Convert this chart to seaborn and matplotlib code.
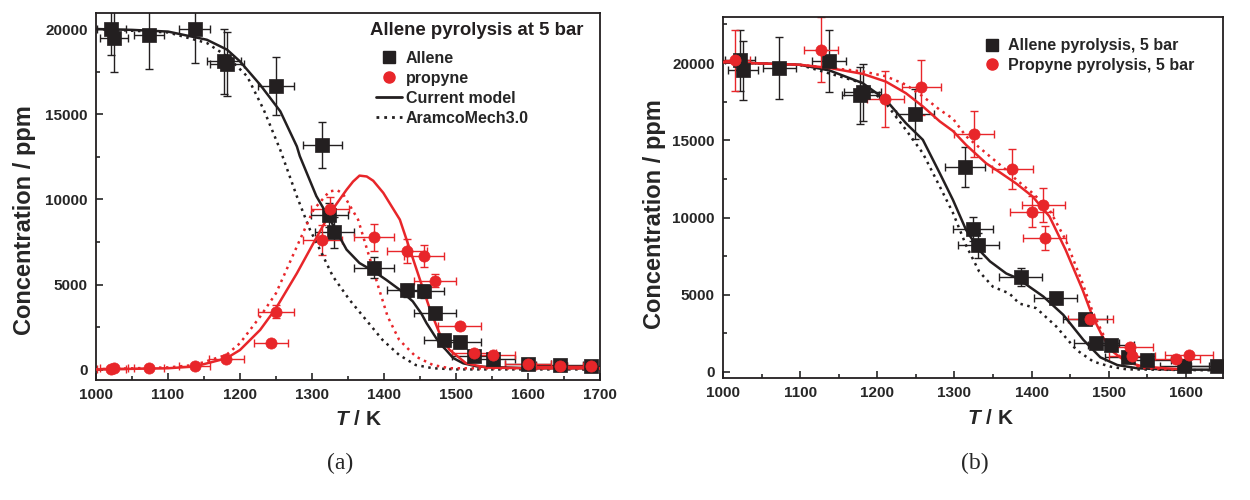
import matplotlib

matplotlib.use("Agg")
import matplotlib.pyplot as plt
from matplotlib.lines import Line2D
from matplotlib.ticker import MultipleLocator
import seaborn as sns

# ===================== data =====================
# (a) allene pyrolysis at 5 bar
allene_T_a = [1021, 1025, 1074, 1137, 1178, 1182, 1250, 1314, 1324, 1331, 1386,
              1432, 1456, 1471, 1484, 1505, 1525, 1551, 1600, 1644, 1688]
allene_C_a = [20000, 19470, 19630, 20000, 18100, 17950, 16670, 13210, 9100, 8080, 6000,
              4670, 4610, 3330, 1770, 1610, 820, 650, 330, 290, 260]
allene_yerr_a = [1500, 2000, 2000, 2000, 1900, 1900, 1700, 1350, 700, 900, 600,
                 400, 400, 300, 300, 300, 200, 200, 150, 150, 150]
allene_xerr_a = [20, 20, 21, 22, 24, 24, 25, 27, 26, 27, 28,
                 28, 28, 29, 29, 30, 30, 31, 32, 33, 34]

propyne_T_a = [1021, 1025, 1074, 1137, 1181, 1243, 1250, 1314, 1325, 1386,
               1432, 1456, 1471, 1505, 1525, 1551, 1600, 1644, 1688]
propyne_C_a = [40, 100, 100, 250, 650, 1570, 3420, 7630, 9450, 7790,
               7000, 6700, 5240, 2550, 1020, 880, 330, 260, 260]
propyne_yerr_a = [50, 50, 50, 100, 150, 100, 400, 900, 700, 800,
                  700, 650, 400, 200, 150, 150, 100, 100, 100]
propyne_xerr_a = [20, 20, 21, 22, 24, 24, 25, 27, 26, 28,
                  28, 28, 29, 30, 30, 31, 32, 33, 34]

cur_allene_T_a = [1000, 1050, 1100, 1154, 1182, 1200, 1228, 1256, 1279, 1283, 1306, 1325,
                  1348, 1366, 1386, 1403, 1422, 1440, 1452, 1459, 1468, 1477, 1486, 1496, 1510,
                  1530, 1600, 1700]
cur_allene_C_a = [20000, 19950, 19850, 19370, 18790, 18100, 16730, 15170, 13110, 12550, 10200, 8820,
                  7060, 6270, 5780, 5290, 4700, 4020, 3300, 2750, 2160, 1570, 1180, 700, 390,
                  200, 100, 100]
aram_allene_T_a = [1000, 1100, 1154, 1182, 1210, 1233, 1256, 1279, 1297, 1311, 1329, 1352,
                   1375, 1398, 1421, 1444, 1468, 1500, 1700]
aram_allene_C_a = [20000, 19800, 19180, 18400, 17220, 15260, 12900, 10180, 8240, 7060, 5490, 4120,
                   2940, 1760, 880, 290, 100, 30, 30]
cur_propyne_T_a = [1000, 1100, 1137, 1181, 1200, 1228, 1250, 1279, 1302, 1325, 1348, 1357, 1366,
                   1376, 1385, 1399, 1422, 1436, 1450, 1464, 1477, 1491, 1514, 1542, 1600, 1700]
cur_propyne_C_a = [30, 100, 200, 680, 1170, 2350, 3620, 5670, 7440, 9200, 10570, 11050, 11400,
                   11350, 11100, 10390, 8820, 7060, 5290, 3530, 2160, 1180, 390, 140, 100, 100]
aram_propyne_T_a = [1000, 1100, 1137, 1181, 1200, 1228, 1250, 1279, 1302, 1324, 1335, 1343, 1364,
                    1378, 1392, 1405, 1421, 1444, 1468, 1491, 1700]
aram_propyne_C_a = [40, 150, 290, 880, 1570, 3130, 4500, 7240, 9390, 10470, 10550, 10330, 8820,
                    6860, 4900, 3140, 1770, 790, 290, 100, 80]

# (b) allene vs propyne pyrolysis at 5 bar
allene_T_b = [1022, 1026, 1073, 1137, 1178, 1181, 1249, 1314, 1324, 1331, 1386,
              1431, 1469, 1484, 1503, 1525, 1550, 1598, 1640]
allene_C_b = [20170, 19520, 19680, 20110, 17900, 18100, 16710, 13250, 9250, 8190, 6140,
              4780, 3420, 1860, 1750, 950, 780, 410, 410]
allene_yerr_b = [2000, 1900, 2000, 2000, 1850, 1850, 1600, 1300, 800, 800, 600,
                 300, 200, 200, 200, 200, 200, 150, 150]
allene_xerr_b = [20, 20, 21, 22, 24, 24, 25, 26, 26, 27, 28,
                 28, 29, 29, 30, 30, 31, 32, 33]

propyne_T_b = [1015, 1127, 1210, 1257, 1325, 1375, 1400, 1415, 1417, 1476, 1527, 1530, 1587, 1604]
propyne_C_b = [20170, 20860, 17660, 18420, 15400, 13150, 10360, 10830, 8670, 3420, 1600, 1040, 820, 1100]
propyne_yerr_b = [2000, 2100, 1800, 1800, 1500, 1300, 1000, 1100, 800, 300, 200, 200, 150, 200]
propyne_xerr_b = [20, 22, 24, 25, 26, 27, 28, 28, 28, 29, 30, 30, 31, 31]

cur_allene_T_b = [1000, 1099, 1138, 1181, 1211, 1237, 1259, 1281, 1298, 1315, 1332, 1346,
                  1367, 1381, 1415, 1441, 1467, 1489, 1511, 1537, 1580, 1650]
cur_allene_C_b = [20060, 19890, 19520, 18700, 17620, 16110, 15030, 12860, 11140, 9200, 7890, 7160,
                  6380, 6080, 4890, 3700, 2080, 950, 450, 240, 150, 150]
aram_allene_T_b = [1000, 1099, 1181, 1211, 1237, 1259, 1281, 1298, 1315, 1332, 1350, 1371,
                   1384, 1406, 1432, 1458, 1480, 1502, 1523, 1650]
aram_allene_C_b = [20060, 19890, 18700, 17400, 15680, 14160, 12000, 10300, 8200, 6500, 5510, 5090,
                   4430, 4130, 2940, 1430, 670, 350, 170, 100]
cur_propyne_T_b = [1000, 1099, 1138, 1181, 1211, 1237, 1259, 1281, 1298, 1315, 1341, 1358,
                   1380, 1401, 1423, 1444, 1466, 1479, 1492, 1505, 1522, 1544, 1574, 1596]
cur_propyne_C_b = [20060, 19890, 19680, 19300, 18800, 18050, 17190, 16220, 15600, 14700, 13510, 12950,
                   12200, 11370, 10075, 7910, 5320, 3590, 2290, 1320, 670, 350, 240, 170]
aram_propyne_T_b = [1000, 1099, 1181, 1211, 1237, 1259, 1281, 1298, 1315, 1341, 1367, 1380,
                    1401, 1423, 1444, 1466, 1479, 1492, 1505, 1522, 1544, 1574, 1596]
aram_propyne_C_b = [20060, 19890, 19460, 19140, 18600, 17840, 16970, 16400, 15260, 14160, 13080, 12450,
                    11590, 10510, 8560, 5750, 3900, 2500, 1430, 670, 260, 170, 150]

# ===================== style =====================
sns.set_style("ticks")
plt.rcParams['font.family'] = ['Liberation Sans', 'DejaVu Sans']
plt.rcParams['mathtext.fontset'] = 'custom'
plt.rcParams['mathtext.bfit'] = 'Liberation Sans:italic:bold'
plt.rcParams['mathtext.it'] = 'Liberation Sans:italic:bold'
plt.rcParams['mathtext.rm'] = 'Liberation Sans:bold'

BLACK = '#231f20'
RED = '#e8262a'
DOT = (0, (1, 1.8))

fig = plt.figure(figsize=(12.5, 5), dpi=100)
ax_a = fig.add_axes([0.0768, 0.24, 0.4032, 0.734])
ax_b = fig.add_axes([0.5784, 0.244, 0.4, 0.722])


def draw_points(ax, T, C, xerr, yerr, color, marker, size):
    ax.errorbar(T, C, xerr=xerr, yerr=yerr, fmt='none', ecolor=color,
                elinewidth=1.0, capsize=3, capthick=1.0, zorder=2)
    sns.scatterplot(x=T, y=C, ax=ax, color=color, marker=marker, s=size,
                    edgecolor=color, linewidth=0.5, zorder=4, legend=False)


def draw_curve(ax, T, C, color, ls):
    sns.lineplot(x=T, y=C, ax=ax, color=color, linestyle=ls, linewidth=1.8,
                 estimator=None, sort=False, zorder=3, legend=False)


def style_axes(ax, xlim, ylim, xlab_pos, ylab_pos):
    ax.set_xlim(*xlim)
    ax.set_ylim(*ylim)
    ax.xaxis.set_major_locator(MultipleLocator(100))
    ax.xaxis.set_minor_locator(MultipleLocator(50))
    ax.yaxis.set_major_locator(MultipleLocator(5000))
    ax.yaxis.set_minor_locator(MultipleLocator(2500))
    ax.tick_params(which='both', direction='in', top=False, right=False, width=1.2)
    ax.tick_params(which='major', length=5, labelsize=11, pad=6)
    ax.tick_params(which='minor', length=3)
    for lab in ax.get_xticklabels() + ax.get_yticklabels():
        lab.set_fontweight('bold')
    for sp in ax.spines.values():
        sp.set_visible(True)
        sp.set_linewidth(1.3)
        sp.set_color(BLACK)
    ax.set_xlabel(r'$\mathbfit{T}$ / K', fontsize=15, fontweight='bold')
    ax.set_ylabel('Concentration / ppm', fontsize=17, fontweight='bold')
    ax.xaxis.set_label_coords(*xlab_pos)
    ax.yaxis.set_label_coords(*ylab_pos)


# ---- (a)
draw_curve(ax_a, cur_allene_T_a, cur_allene_C_a, BLACK, '-')
draw_curve(ax_a, aram_allene_T_a, aram_allene_C_a, BLACK, DOT)
draw_curve(ax_a, cur_propyne_T_a, cur_propyne_C_a, RED, '-')
draw_curve(ax_a, aram_propyne_T_a, aram_propyne_C_a, RED, DOT)
draw_points(ax_a, allene_T_a, allene_C_a, allene_xerr_a, allene_yerr_a, BLACK, 's', 95)
draw_points(ax_a, propyne_T_a, propyne_C_a, propyne_xerr_a, propyne_yerr_a, RED, 'o', 65)
style_axes(ax_a, (1000, 1700), (-590, 20940), (0.52, -0.083), (-0.119, 0.436))

ax_a.text(0.968, 0.951, 'Allene pyrolysis at 5 bar', transform=ax_a.transAxes,
          ha='right', va='center', fontsize=13.4, fontweight='bold', color=BLACK)
handles_a = [
    Line2D([], [], color=BLACK, marker='s', ls='none', markersize=9),
    Line2D([], [], color=RED, marker='o', ls='none', markersize=8),
    Line2D([], [], color=BLACK, ls='-', lw=2),
    Line2D([], [], color=BLACK, ls=DOT, lw=2),
]
ax_a.legend(handles_a, ['Allene', 'propyne', 'Current model', 'AramcoMech3.0'],
            loc='upper left', bbox_to_anchor=(0.5556, 0.897), frameon=False,
            prop={'weight': 'bold', 'size': 11.5}, borderpad=0, borderaxespad=0,
            handlelength=1.63, handletextpad=0.25, labelspacing=0.31)

# ---- (b)
draw_curve(ax_b, cur_allene_T_b, cur_allene_C_b, BLACK, '-')
draw_curve(ax_b, aram_allene_T_b, aram_allene_C_b, BLACK, DOT)
draw_curve(ax_b, cur_propyne_T_b, cur_propyne_C_b, RED, '-')
draw_curve(ax_b, aram_propyne_T_b, aram_propyne_C_b, RED, DOT)
draw_points(ax_b, allene_T_b, allene_C_b, allene_xerr_b, allene_yerr_b, BLACK, 's', 95)
draw_points(ax_b, propyne_T_b, propyne_C_b, propyne_xerr_b, propyne_yerr_b, RED, 'o', 65)
style_axes(ax_b, (1000, 1648), (-390, 22980), (0.534, -0.085), (-0.114, 0.455))

handles_b = [
    Line2D([], [], color=BLACK, marker='s', ls='none', markersize=9),
    Line2D([], [], color=RED, marker='o', ls='none', markersize=8),
]
ax_b.legend(handles_b, ['Allene pyrolysis, 5 bar', 'Propyne pyrolysis, 5 bar'],
            loc='upper left', bbox_to_anchor=(0.494, 0.981), frameon=False,
            prop={'weight': 'bold', 'size': 11.5}, handlelength=1.0,
            handletextpad=0.5, labelspacing=0.3)

fig.text(340 / 1250, 1 - 463 / 500, '(a)', ha='center', va='center',
         fontsize=17, family=['Liberation Serif', 'DejaVu Serif'])
fig.text(975 / 1250, 1 - 463 / 500, '(b)', ha='center', va='center',
         fontsize=17, family=['Liberation Serif', 'DejaVu Serif'])

fig.savefig('out.png', dpi=100)
plt.close(fig)
